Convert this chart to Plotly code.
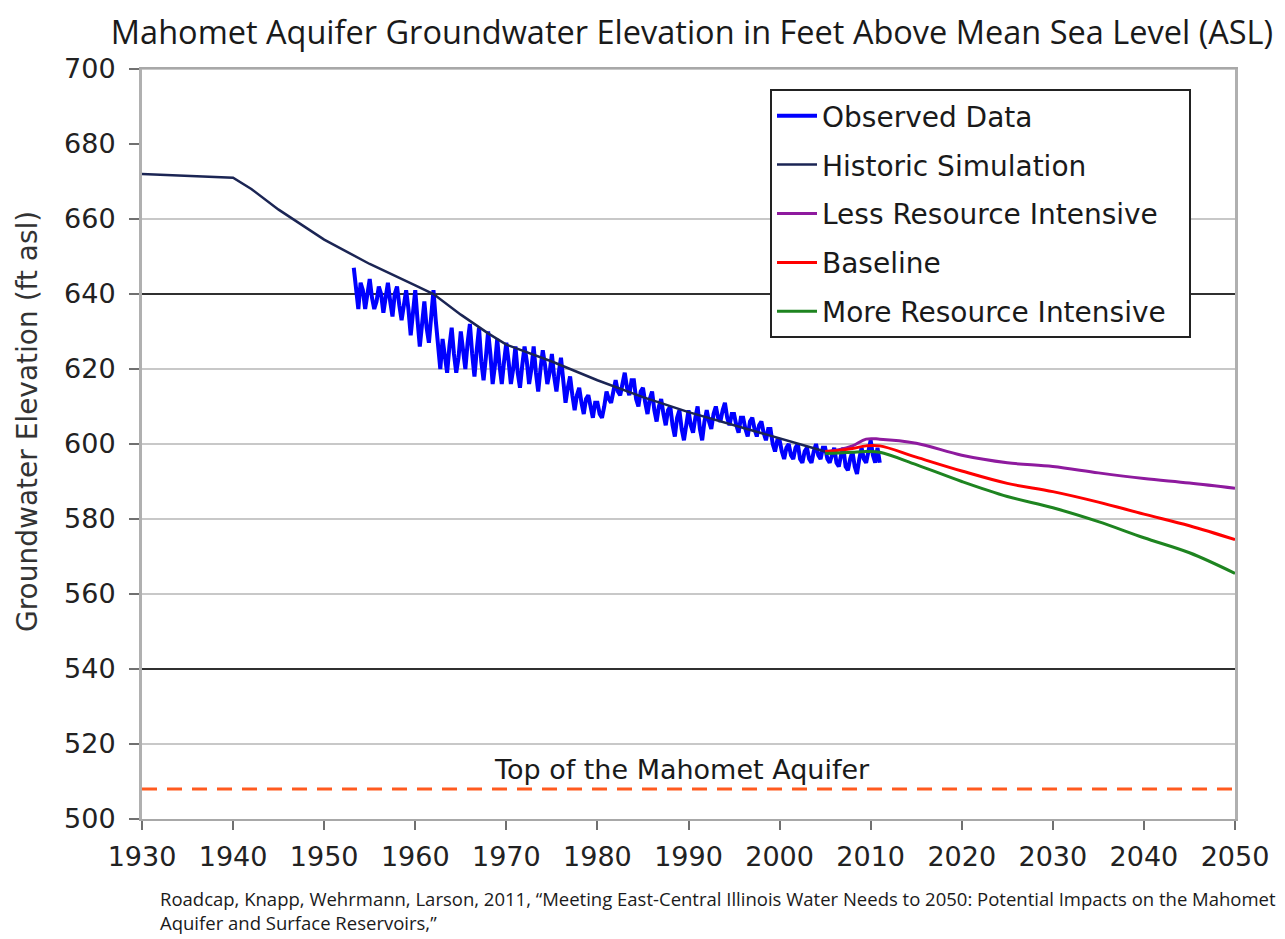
import numpy as np
import plotly.graph_objects as go

# ---------------- data ----------------
sim_years = [1930, 1940, 1942, 1945, 1950, 1955, 1960, 1962, 1965, 1968, 1970, 1975, 1980, 1985, 1990, 1995, 2000, 2005]
sim_vals = [672, 671, 668, 662.5, 654.5, 648, 642.3, 640, 634.5, 629.5, 626.5, 622, 617, 612.5, 608.5, 605, 601.5, 598]

# observed levels, quarterly from 1953.25 (one seasonal cycle per year)
obs_by_year = [
    [647, 640, 636],
    [643, 641, 636, 640],
    [644, 639, 636, 638],
    [642, 640, 635, 639],
    [643, 638, 634, 640],
    [642, 637, 633, 637],
    [641, 636, 629, 635],
    [641, 633, 626, 632],
    [638, 631, 627, 634],
    [641, 633, 625, 620],
    [628, 624, 619, 626],
    [631, 624, 619, 623],
    [630, 625, 620, 627],
    [632, 624, 618, 625],
    [631, 622, 617, 623],
    [630, 624, 616, 621],
    [628, 621, 616, 622],
    [627, 622, 616, 620],
    [626, 619, 615, 621],
    [626, 622, 616, 620],
    [626, 619, 614, 620],
    [625, 621, 616, 619],
    [624, 618, 614, 619],
    [623, 617, 611, 615],
    [618, 613, 609, 613],
    [615, 611, 608, 612],
    [613, 610, 607, 611],
    [611, 608, 607, 610],
    [614, 612, 611, 614],
    [617, 614, 613, 616],
    [619, 615, 613, 617],
    [617, 612, 610, 614],
    [615, 611, 608, 612],
    [614, 609, 606, 610],
    [612, 608, 605, 609],
    [610, 605, 602, 607],
    [609, 604, 601, 605],
    [609, 605, 603, 607],
    [610, 604, 601, 606],
    [609, 606, 604, 608],
    [610, 607, 606, 609],
    [611, 607, 605, 608],
    [608, 605, 603, 607],
    [607, 604, 602, 606],
    [607, 604, 602, 605],
    [606, 603, 601, 604],
    [604, 600, 598, 601],
    [601, 598, 596, 599],
    [600, 597, 596, 599],
    [600, 596, 595, 598],
    [599, 596, 595, 598],
    [600, 597, 596, 599],
    [599, 596, 595, 597],
    [599, 595, 594, 597],
    [599, 594, 593, 596],
    [598, 594, 592, 596],
    [599, 596, 595, 598],
    [601, 597, 595, 599],
    [595],
]
obs_vals = [v for yr in obs_by_year for v in yr]
obs_years = list(1953.25 + 0.25 * np.arange(len(obs_vals)))

scen_years = [2005, 2006.5, 2008, 2009.5, 2011, 2015, 2020, 2025, 2030, 2035, 2040, 2045, 2050]
less_vals = [598, 598.5, 599.5, 601.3, 601.3, 600.2, 597, 595, 594, 592.3, 590.8, 589.6, 588.2]
base_vals = [598, 598.3, 598.8, 599.5, 599.5, 596.5, 592.8, 589.5, 587.3, 584.5, 581.3, 578.2, 574.5]
more_vals = [597.5, 597.6, 597.8, 598, 597.8, 594.5, 590, 586, 583, 579.3, 575, 571, 565.5]

aquifer_top = 508
aquifer_years = [1930, 2050]

y_ticks = [500, 520, 540, 560, 580, 600, 620, 640, 660, 680, 700]
x_ticks = [1930, 1940, 1950, 1960, 1970, 1980, 1990, 2000, 2010, 2020, 2030, 2040, 2050]
light_grid = [520, 560, 580, 600, 620, 660, 700]
dark_grid = [540, 640]

title = "Mahomet Aquifer Groundwater Elevation in Feet Above Mean Sea Level (ASL)"
y_title = "Groundwater Elevation (ft asl)"
citation = ("Roadcap, Knapp, Wehrmann, Larson, 2011, \u201cMeeting East-Central Illinois Water Needs to 2050: "
            "Potential Impacts on the Mahomet<br>Aquifer and Surface Reservoirs,\u201d")

# ---------------- figure ----------------
W, H = 1285, 939
ML, MT, PW, PH = 134, 61, 1093, 750
PAD = "\u00a0\u00a0"

fig = go.Figure()

fig.add_trace(go.Scatter(x=aquifer_years, y=[aquifer_top] * len(aquifer_years), mode="lines",
                         line=dict(color="#FF5A1F", width=3, dash="15px,10px"),
                         showlegend=False, hoverinfo="skip"))

fig.add_trace(go.Scatter(x=obs_years, y=obs_vals, mode="lines", name="Observed Data" + PAD,
                         line=dict(color="#0000FF", width=4), legendgroup="a"))
fig.add_trace(go.Scatter(x=sim_years, y=sim_vals, mode="lines", name="Historic Simulation" + PAD,
                         line=dict(color="#1B2554", width=2.5), legendgroup="b"))
fig.add_trace(go.Scatter(x=scen_years, y=less_vals, mode="lines", name="Less Resource Intensive" + PAD,
                         line=dict(color="#8E1A9E", width=3, shape="spline"), legendgroup="c"))
fig.add_trace(go.Scatter(x=scen_years, y=base_vals, mode="lines", name="Baseline" + PAD,
                         line=dict(color="#FF0000", width=3, shape="spline"), legendgroup="d"))
fig.add_trace(go.Scatter(x=scen_years, y=more_vals, mode="lines", name="More Resource Intensive" + PAD,
                         line=dict(color="#1E8420", width=3, shape="spline"), legendgroup="e"))

shapes = []
for g in light_grid:
    shapes.append(dict(type="line", xref="paper", x0=0, x1=1, yref="y", y0=g, y1=g,
                       line=dict(color="#C8C8C8", width=2), layer="below"))
for g in dark_grid:
    shapes.append(dict(type="line", xref="paper", x0=0, x1=1, yref="y", y0=g, y1=g,
                       line=dict(color="#303030", width=2), layer="below"))

fig.update_layout(
    width=W, height=H,
    margin=dict(l=ML, r=W - ML - PW, t=MT, b=H - MT - PH),
    paper_bgcolor="white", plot_bgcolor="white",
    shapes=shapes,
    font=dict(family="DejaVu Sans", color="#222222"),
    title=dict(text=title, x=684 / W, xanchor="center", y=1 - 25 / H, yanchor="middle",
               font=dict(family="Open Sans", size=32.5, color="#1a1a1a")),
    xaxis=dict(range=[1930, 2050], tickvals=x_ticks, ticktext=[str(t) for t in x_ticks],
               showgrid=False, zeroline=False, showline=True, linecolor="#A8A8A8", linewidth=2,
               mirror=True, ticks="outside", ticklen=9, tickcolor="#707070", tickwidth=2,
               ticklabelstandoff=4,
               tickfont=dict(size=27, color="#222222")),
    yaxis=dict(range=[500, 700], tickvals=y_ticks, showgrid=False, zeroline=False,
               showline=True, linecolor="#B0B0B0", linewidth=3, mirror=True,
               ticks="outside", ticklen=10, tickcolor="#707070", tickwidth=2,
               ticklabelstandoff=8,
               tickfont=dict(size=27, color="#222222")),
    legend=dict(x=(770 - 8 - ML) / PW, y=1 - (89 - 8 - MT) / PH, xanchor="left", yanchor="top",
                bgcolor="white", bordercolor="#222222", borderwidth=2,
                font=dict(size=28, color="#1a1a1a"),
                tracegroupgap=9.5, itemwidth=40),
    annotations=[
        dict(text="Top of the Mahomet Aquifer", x=1989.3, y=513.3, xref="x", yref="y",
             showarrow=False, font=dict(size=27, color="#1a1a1a")),
        dict(text=y_title, textangle=-90, x=(27 - 8 - ML) / PW, y=1 - (422 - 8 - MT) / PH,
             xref="paper", yref="paper", xanchor="center", yanchor="middle", showarrow=False,
             font=dict(size=28, color="#333333")),
        dict(text=citation, x=(150 - ML) / PW, y=-(902 - MT - PH) / PH, xref="paper", yref="paper",
             showarrow=False, align="left", xanchor="left", yanchor="middle",
             font=dict(family="Open Sans", size=18.5, color="#1a1a1a")),
    ],
)

fig.write_html("out.html")
